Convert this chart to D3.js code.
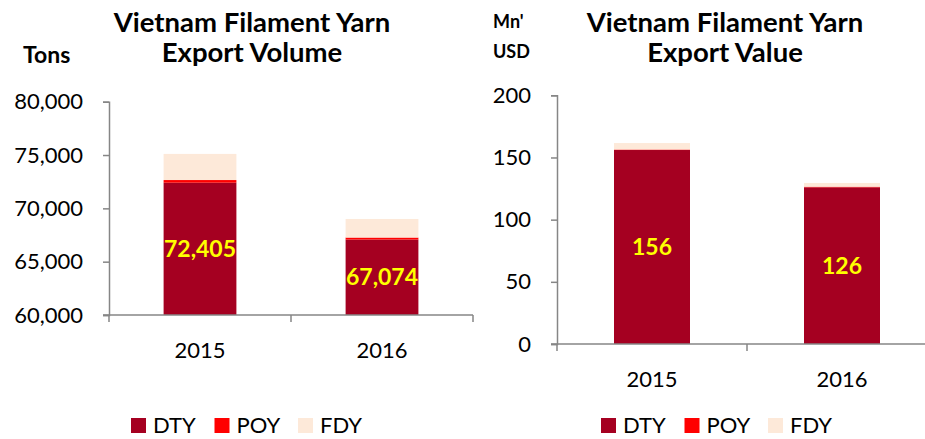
<!DOCTYPE html>
<html>
<head>
<meta charset="utf-8">
<script src="https://cdn.jsdelivr.net/npm/d3@7"></script>
<style>
  body { margin: 0; background: #fff; }
  svg { font-family: "Lato", "Open Sans", sans-serif; }
</style>
</head>
<body>
<div id="chart"></div>
<script>
// data
const years = ["2015", "2016"];
const seriesNames = ["DTY", "POY", "FDY"];
const colors = ["#A50021", "#FF0000", "#FDE9D9"];

const volDTY = [72405, 67074];
const volPOY = [250, 190];
const volFDY = [2450, 1740];
const volTicks = [60000, 65000, 70000, 75000, 80000];

const valDTY = [156, 126];
const valPOY = [0.4, 0.5];
const valFDY = [5.2, 3.0];
const valTicks = [0, 50, 100, 150, 200];

const width = 925;
const height = 439;

const svg = d3.select('#chart')
  .append('svg')
  .attr('width', width)
  .attr('height', height);

function drawChart(opt) {
  const rows = years.map((y, i) => ({
    year: y, DTY: opt.dty[i], POY: opt.poy[i], FDY: opt.fdy[i]
  }));
  const stacked = d3.stack().keys(seriesNames)(rows);

  const x = d3.scaleBand()
    .domain(years)
    .range([opt.x0, opt.x1])
    .paddingInner(0.6)
    .paddingOuter(0.3);

  const y = d3.scaleLinear()
    .domain(opt.domain)
    .range([opt.yBottom, opt.yTop]);

  const g = svg.append('g');

  // bars (values below the domain start are cut at the axis)
  g.selectAll('g.layer')
    .data(stacked)
    .enter()
    .append('g')
    .attr('fill', (d, i) => colors[i])
    .selectAll('rect')
    .data(d => d)
    .enter()
    .append('rect')
    .attr('x', d => x(d.data.year))
    .attr('width', x.bandwidth())
    .attr('y', d => y(d[1]))
    .attr('height', d => y(Math.max(d[0], opt.domain[0])) - y(d[1]));

  // y axis
  const yAxis = d3.axisLeft(y)
    .tickValues(opt.ticks)
    .tickSize(6)
    .tickPadding(20)
    .tickFormat(opt.format);
  const ya = g.append('g')
    .attr('transform', `translate(${opt.x0},0)`)
    .call(yAxis);
  ya.select('.domain').attr('stroke', '#868686').attr('stroke-width', 1.5);
  ya.selectAll('.tick line').attr('stroke', '#868686').attr('stroke-width', 1.5);
  ya.selectAll('.tick text')
    .attr('font-size', 22)
    .attr('fill', '#000')
    .attr('font-family', 'Lato');

  // x axis baseline with ticks at category boundaries
  g.append('line')
    .attr('x1', opt.x0 - 6).attr('x2', opt.x1)
    .attr('y1', opt.yBottom).attr('y2', opt.yBottom)
    .attr('stroke', '#868686').attr('stroke-width', 1.5);
  g.selectAll('line.xtick')
    .data([opt.x0, (opt.x0 + opt.x1) / 2, opt.x1])
    .enter()
    .append('line')
    .attr('x1', d => d).attr('x2', d => d)
    .attr('y1', opt.yBottom).attr('y2', opt.yBottom + 7)
    .attr('stroke', '#868686').attr('stroke-width', 1.5);

  g.selectAll('text.year')
    .data(years)
    .enter()
    .append('text')
    .attr('x', d => x(d) + x.bandwidth() / 2)
    .attr('y', opt.yBottom + 43)
    .attr('text-anchor', 'middle')
    .attr('font-size', 22)
    .text(d => d);

  // data labels on DTY
  g.selectAll('text.lbl')
    .data(stacked[0])
    .enter()
    .append('text')
    .attr('x', d => x(d.data.year) + x.bandwidth() / 2)
    .attr('y', d => (y(Math.max(d[0], opt.domain[0])) + y(d[1])) / 2 + 8)
    .attr('text-anchor', 'middle')
    .attr('font-size', 23)
    .attr('font-weight', 'bold')
    .attr('fill', '#FFFF00')
    .text(d => opt.format(d[1]));

  // title
  opt.title.forEach((t, i) => {
    g.append('text')
      .attr('x', opt.titleX)
      .attr('y', 32 + i * 30)
      .attr('text-anchor', 'middle')
      .attr('font-size', 27.5)
      .attr('font-weight', 'bold')
      .text(t);
  });

  // unit label
  opt.unit.forEach((t, i) => {
    g.append('text')
      .attr('x', opt.unitX)
      .attr('y', opt.unitY + i * 30)
      .attr('font-size', opt.unitSize)
      .attr('font-weight', 'bold')
      .text(t);
  });

  // legend
  const leg = g.selectAll('g.leg')
    .data(seriesNames)
    .enter()
    .append('g')
    .attr('transform', (d, i) => `translate(${opt.legendX + i * 83.5},0)`);
  leg.append('rect')
    .attr('x', 0).attr('y', 418)
    .attr('width', 15).attr('height', 15)
    .attr('fill', (d, i) => colors[i]);
  leg.append('text')
    .attr('x', 22).attr('y', 433)
    .attr('font-size', 22)
    .text(d => d);
}

drawChart({
  dty: volDTY, poy: volPOY, fdy: volFDY,
  domain: [60000, 80000], ticks: volTicks, format: d3.format(','),
  x0: 109, x1: 473, yBottom: 315, yTop: 101.7,
  title: ['Vietnam Filament Yarn', 'Export Volume'], titleX: 252,
  unit: ['Tons'], unitX: 23, unitY: 63, unitSize: 23,
  legendX: 131
});

drawChart({
  dty: valDTY, poy: valPOY, fdy: valFDY,
  domain: [0, 200], ticks: valTicks, format: d3.format(','),
  x0: 557, x1: 937, yBottom: 344, yTop: 95.3,
  title: ['Vietnam Filament Yarn', 'Export Value'], titleX: 725,
  unit: ["Mn'", 'USD'], unitX: 493, unitY: 28, unitSize: 18,
  legendX: 601
});
</script>
</body>
</html>
